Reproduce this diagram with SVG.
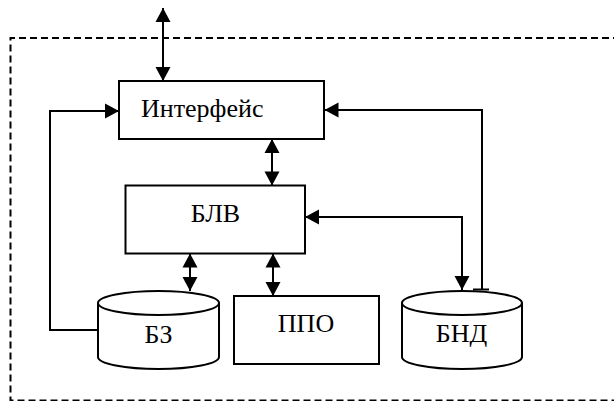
<svg xmlns="http://www.w3.org/2000/svg" width="614" height="401" viewBox="0 0 614 401">
  <style>
    .box { fill: #fff; stroke: #000; stroke-width: 2; }
    .wire { fill: none; stroke: #000; stroke-width: 2; }
    .both { marker-start: url(#head); marker-end: url(#head); }
    .one { marker-end: url(#head); }
    .frame { fill: none; stroke: #000; stroke-width: 2; stroke-dasharray: 7 4; }
    .lbl { font-family: "Liberation Serif", "Times New Roman", serif; font-size: 26px; fill: #000; }
  </style>
  <defs>
    <marker id="head" markerUnits="userSpaceOnUse" markerWidth="15" markerHeight="16" refX="14" refY="7.5" orient="auto-start-reverse" overflow="visible">
      <path d="M0,0 L14,7.5 L0,15 Z" fill="#000"/>
    </marker>
  </defs>
  <rect width="614" height="401" fill="#fff"/>

  <!-- system boundary -->
  <path class="frame" d="M620,38 H10.5 V400.5 H620"/>

  <g id="connectors">
    <line class="wire both" x1="163" y1="8" x2="163" y2="81"/>
    <line class="wire both" x1="272" y1="139" x2="272" y2="185.5"/>
    <line class="wire both" x1="190" y1="253.5" x2="190" y2="291"/>
    <line class="wire both" x1="273" y1="253.5" x2="273" y2="296"/>
    <path class="wire both" d="M462,290 V217 H305"/>
    <path class="wire one" d="M482,289.5 V110 H324.5"/>
    <line class="wire" x1="473" y1="289.5" x2="489" y2="289.5"/>
    <path class="wire one" d="M98,330 H50 V111 H119"/>
  </g>

  <g id="interface">
    <rect class="box" x="119" y="81" width="205" height="58"/>
    <text class="lbl" x="141" y="117">Интерфейс</text>
  </g>

  <g id="blv">
    <rect class="box" x="125.5" y="185.5" width="179.5" height="68"/>
    <text class="lbl" x="215.5" y="222" text-anchor="middle">БЛВ</text>
  </g>

  <g id="bz">
    <path class="box" d="M98,303 A60.5,12 0 0 1 219,303 V357 A60.5,12 0 0 1 98,357 Z"/>
    <path class="box" d="M98,303 A60.5,12 0 0 0 219,303"/>
    <text class="lbl" x="158.5" y="343" text-anchor="middle">БЗ</text>
  </g>

  <g id="ppo">
    <rect class="box" x="234" y="296" width="145" height="68"/>
    <text class="lbl" x="306" y="332" text-anchor="middle">ППО</text>
  </g>

  <g id="bnd">
    <path class="box" d="M402,303 A60,12 0 0 1 522,303 V357 A60,12 0 0 1 402,357 Z"/>
    <path class="box" d="M402,303 A60,12 0 0 0 522,303"/>
    <text class="lbl" x="461.5" y="342" text-anchor="middle">БНД</text>
  </g>
</svg>
